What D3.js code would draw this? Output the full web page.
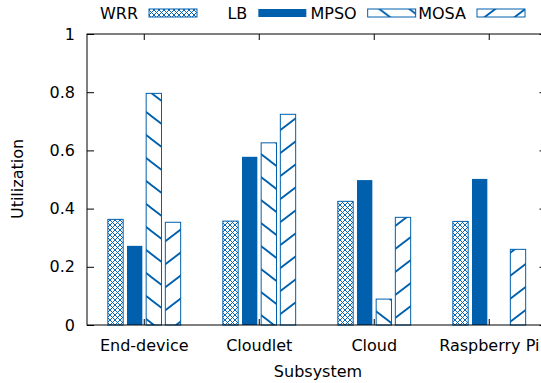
<!DOCTYPE html>
<html>
<head>
<meta charset="utf-8">
<script src="https://cdn.jsdelivr.net/npm/d3@7"></script>
<style>
  html, body { margin: 0; padding: 0; background: #fff; }
  svg { display: block; }
  text { font-family: "DejaVu Sans", sans-serif; fill: #000; }
</style>
</head>
<body>
<svg id="chart" width="541" height="383"></svg>
<script>
// ---- data ----
const categories = ["End-device", "Cloudlet", "Cloud", "Raspberry Pi"];
const seriesNames = ["WRR", "LB", "MPSO", "MOSA"];
const WRR  = [0.363, 0.357, 0.425, 0.356];
const LB   = [0.272, 0.578, 0.498, 0.502];
const MPSO = [0.796, 0.626, 0.089, 0.0];
const MOSA = [0.353, 0.724, 0.370, 0.260];
const yTicks = [0, 0.2, 0.4, 0.6, 0.8, 1];
const xTitle = "Subsystem";
const yTitle = "Utilization";

const seriesValues = { WRR, LB, MPSO, MOSA };
const blue = "#0060ad";

const svg = d3.select("#chart");
const mLeft = 87, mTop = 34, mBottom = 325, mRight = 546.5;

// patterns
const defs = svg.append("defs");
const cs = 5;
const cross = defs.append("pattern").attr("id", "pCross")
  .attr("patternUnits", "userSpaceOnUse").attr("width", cs).attr("height", cs);
cross.append("rect").attr("width", cs).attr("height", cs).attr("fill", "#fff");
cross.append("path").attr("d", `M0,0L${cs},${cs}M0,${cs}L${cs},0`)
  .attr("stroke", blue).attr("stroke-width", 0.95).attr("fill", "none");

const pw = 30, ph = 23;
const back = defs.append("pattern").attr("id", "pBack")
  .attr("patternUnits", "userSpaceOnUse").attr("width", pw).attr("height", ph);
back.append("rect").attr("width", pw).attr("height", ph).attr("fill", "#fff");
back.append("path")
  .attr("d", `M${-pw},${-ph}L${2*pw},${2*ph}M${-pw},0L${pw},${2*ph}M0,${-ph}L${2*pw},${ph}`)
  .attr("stroke", blue).attr("stroke-width", 1.8).attr("fill", "none");

const fwd = defs.append("pattern").attr("id", "pFwd")
  .attr("patternUnits", "userSpaceOnUse").attr("width", pw).attr("height", ph);
fwd.append("rect").attr("width", pw).attr("height", ph).attr("fill", "#fff");
fwd.append("path")
  .attr("d", `M${-pw},${2*ph}L${2*pw},${-ph}M${-pw},${ph}L${pw},${-ph}M0,${2*ph}L${2*pw},0`)
  .attr("stroke", blue).attr("stroke-width", 1.8).attr("fill", "none");

const fills = { WRR: "url(#pCross)", LB: blue, MPSO: "url(#pBack)", MOSA: "url(#pFwd)" };

// scales
const x0 = d3.scaleBand().domain(categories).range([mLeft, mRight])
  .paddingInner(1/3).paddingOuter(0.1645);
const x1 = d3.scaleBand().domain(seriesNames).range([0, x0.bandwidth()])
  .paddingInner(0.2).paddingOuter(0.1);
const y = d3.scaleLinear().domain([0, 1]).range([mBottom, mTop]);

// bars
const data = [];
categories.forEach((c, i) => seriesNames.forEach(s => {
  data.push({ cat: c, series: s, value: seriesValues[s][i] });
}));

svg.append("g").selectAll("rect").data(data.filter(d => d.value > 0)).join("rect")
  .attr("x", d => x0(d.cat) + x1(d.series))
  .attr("y", d => y(d.value))
  .attr("width", x1.bandwidth())
  .attr("height", d => y(0) - y(d.value))
  .attr("fill", d => fills[d.series])
  .attr("stroke", d => d.series === "LB" ? "none" : blue)
  .attr("stroke-width", 1);

// axes
const gy = svg.append("g").attr("transform", `translate(${mLeft},0)`)
  .call(d3.axisLeft(y).tickValues(yTicks).tickSize(-7).tickPadding(12)
    .tickFormat(d => d3.format("")(d)));
gy.select(".domain").remove();
gy.selectAll("line").attr("stroke", "#000");
gy.selectAll("text").attr("font-size", 16).attr("x", -12);

const gyR = svg.append("g").attr("transform", `translate(${mRight},0)`)
  .call(d3.axisRight(y).tickValues(yTicks).tickSize(-7).tickFormat(""));
gyR.select(".domain").remove();

const gx = svg.append("g").attr("transform", `translate(0,${mBottom})`)
  .call(d3.axisBottom(x0).tickSize(-6).tickPadding(20));
gx.select(".domain").remove();
gx.selectAll("line").attr("stroke", "#000");
gx.selectAll("text").attr("font-size", 16).attr("y", 26).attr("dy", 0);

const gxT = svg.append("g").attr("transform", `translate(0,${mTop})`)
  .call(d3.axisTop(x0).tickSize(-6).tickFormat(""));
gxT.select(".domain").remove();

// border
svg.append("rect").attr("x", mLeft).attr("y", mTop)
  .attr("width", mRight - mLeft).attr("height", mBottom - mTop)
  .attr("fill", "none").attr("stroke", "#000").attr("stroke-width", 1);

// axis titles
svg.append("text").attr("x", 318).attr("y", 377)
  .attr("text-anchor", "middle").attr("font-size", 16).text(xTitle);
svg.append("text").attr("transform", "translate(23,179) rotate(-90)")
  .attr("text-anchor", "middle").attr("font-size", 16).text(yTitle);

// legend
const legX = d3.scalePoint().domain(seriesNames).range([149, 477]);
const leg = svg.append("g").selectAll("g").data(seriesNames).join("g")
  .attr("transform", d => `translate(${legX(d)},0)`);
leg.append("text").attr("x", -11).attr("y", 18.5).attr("text-anchor", "end")
  .attr("font-size", 16).text(d => d);
leg.append("rect").attr("x", 0).attr("y", 9).attr("width", 48).attr("height", 8)
  .attr("fill", d => fills[d])
  .attr("stroke", d => d === "LB" ? "none" : blue).attr("stroke-width", 1);
</script>
</body>
</html>
